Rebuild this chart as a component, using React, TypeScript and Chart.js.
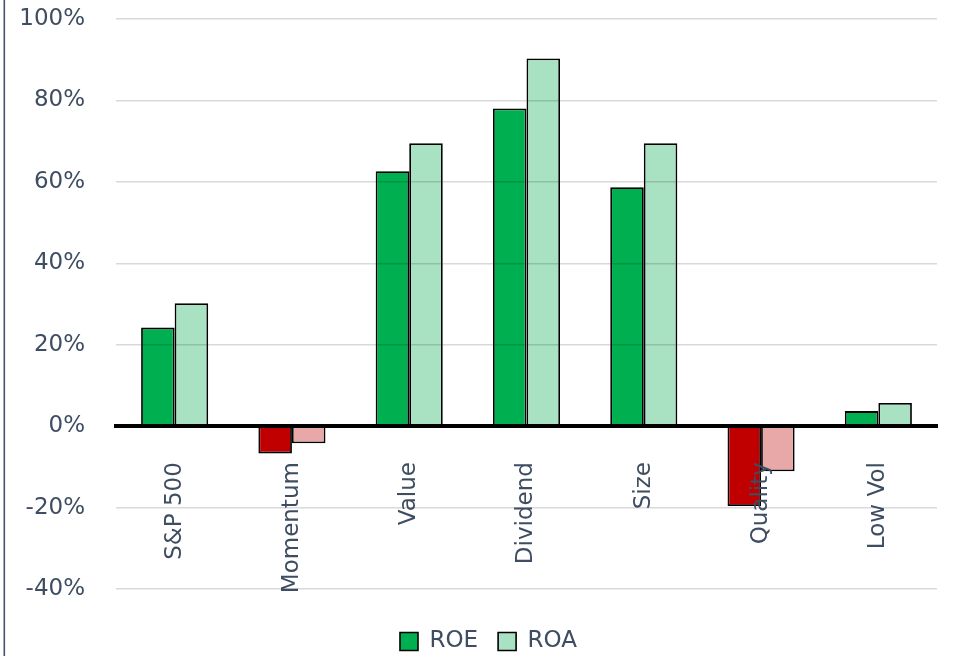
import React, { useEffect, useRef } from "react";
import { Chart, registerables } from "chart.js";

Chart.register(...registerables);

const categories = ["S&P 500", "Momentum", "Value", "Dividend", "Size", "Quality", "Low Vol"];
const roe = [24.2, -6.7, 62.6, 78.0, 58.7, -19.6, 3.7];
const roa = [30.2, -4.2, 69.5, 90.3, 69.5, -11.1, 5.7];
const yTicks = [-40, -20, 0, 20, 40, 60, 80, 100];

const ROE_POS = "#00B050";
const ROE_NEG = "#C00000";
const ROA_POS = "#A9E2C3";
const ROA_NEG = "#E8A8A8";
const TEXT = "#3E4D62";
const FONT = "'DejaVu Sans', Verdana, sans-serif";
const FS = 23;

const leftLine = {
  id: "leftLine",
  afterDraw(chart: any) {
    const ctx = chart.ctx;
    ctx.save();
    ctx.fillStyle = "#44546A";
    ctx.fillRect(3.5, 0, 1.6, chart.height);
    ctx.restore();
  },
};

const legendTweak = {
  id: "legendTweak",
  beforeLayout(chart: any) {
    const lg = chart.legend;
    if (lg && !lg.__patched) {
      const orig = lg.fit;
      lg.fit = function () {
        orig.call(this);
        this.height = 67;
      };
      lg.__patched = true;
    }
  },
  afterLayout(chart: any) {
    const lg = chart.legend;
    if (lg) {
      lg.left += 20;
      lg.right += 20;
    }
  },
};

export default function App() {
  const ref = useRef<HTMLCanvasElement>(null);
  useEffect(() => {
    document.body.style.margin = "0";
    const chart = new Chart(ref.current!, {
      type: "bar",
      data: {
        labels: categories,
        datasets: [
          {
            label: "ROE",
            data: roe,
            backgroundColor: roe.map((v) => (v < 0 ? ROE_NEG : ROE_POS)),
            borderColor: "#000",
            borderWidth: 1.8,
            categoryPercentage: 0.572,
            barPercentage: 1,
          },
          {
            label: "ROA",
            data: roa,
            backgroundColor: roa.map((v) => (v < 0 ? ROA_NEG : ROA_POS)),
            borderColor: "#000",
            borderWidth: 1.8,
            categoryPercentage: 0.572,
            barPercentage: 1,
          },
        ],
      },
      options: {
        animation: false,
        responsive: true,
        maintainAspectRatio: false,
        layout: { padding: { top: 19, right: 18, left: 0, bottom: 0 } },
        scales: {
          x: {
            position: { y: 0 } as any,
            grid: { display: false, drawTicks: false },
            border: { display: true, color: "#000", width: 4, z: 2 } as any,
            ticks: {
              z: 3,
              minRotation: 90,
              maxRotation: 90,
              padding: 36,
              color: TEXT,
              font: { family: FONT, size: FS },
            },
          },
          y: {
            min: -40,
            max: 100,
            afterFit: (s: any) => {
              s.width = 116;
              s.paddingTop = 0;
              s.paddingBottom = 0;
            },
            afterBuildTicks: (s: any) => {
              s.ticks = yTicks.map((v) => ({ value: v }));
            },
            grid: { color: "rgba(0,0,0,0.15)", lineWidth: 1.5, drawTicks: false, z: 1 } as any,
            border: { display: false },
            ticks: {
              padding: 31,
              color: TEXT,
              font: { family: FONT, size: FS },
              callback: (v: any) => v + "%",
            },
          },
        },
        plugins: {
          tooltip: { enabled: false },
          legend: {
            position: "bottom",
            title: { display: true, text: " ", font: { size: 1, lineHeight: 1 }, padding: { top: 0, bottom: 20 } },
            labels: {
              boxWidth: 18,
              boxHeight: 18,
              padding: 20,
              color: TEXT,
              font: { family: FONT, size: FS },
              generateLabels: () => [
                { text: "ROE", fillStyle: ROE_POS, strokeStyle: "#000", lineWidth: 1.6, datasetIndex: 0, fontColor: TEXT } as any,
                { text: "ROA", fillStyle: ROA_POS, strokeStyle: "#000", lineWidth: 1.6, datasetIndex: 1, fontColor: TEXT } as any,
              ],
            },
          },
        },
      },
      plugins: [leftLine, legendTweak],
    });
    return () => chart.destroy();
  }, []);
  return (
    <div style={{ position: "absolute", left: 0, top: 0, width: 955, height: 656 }}>
      <canvas ref={ref} />
    </div>
  );
}
